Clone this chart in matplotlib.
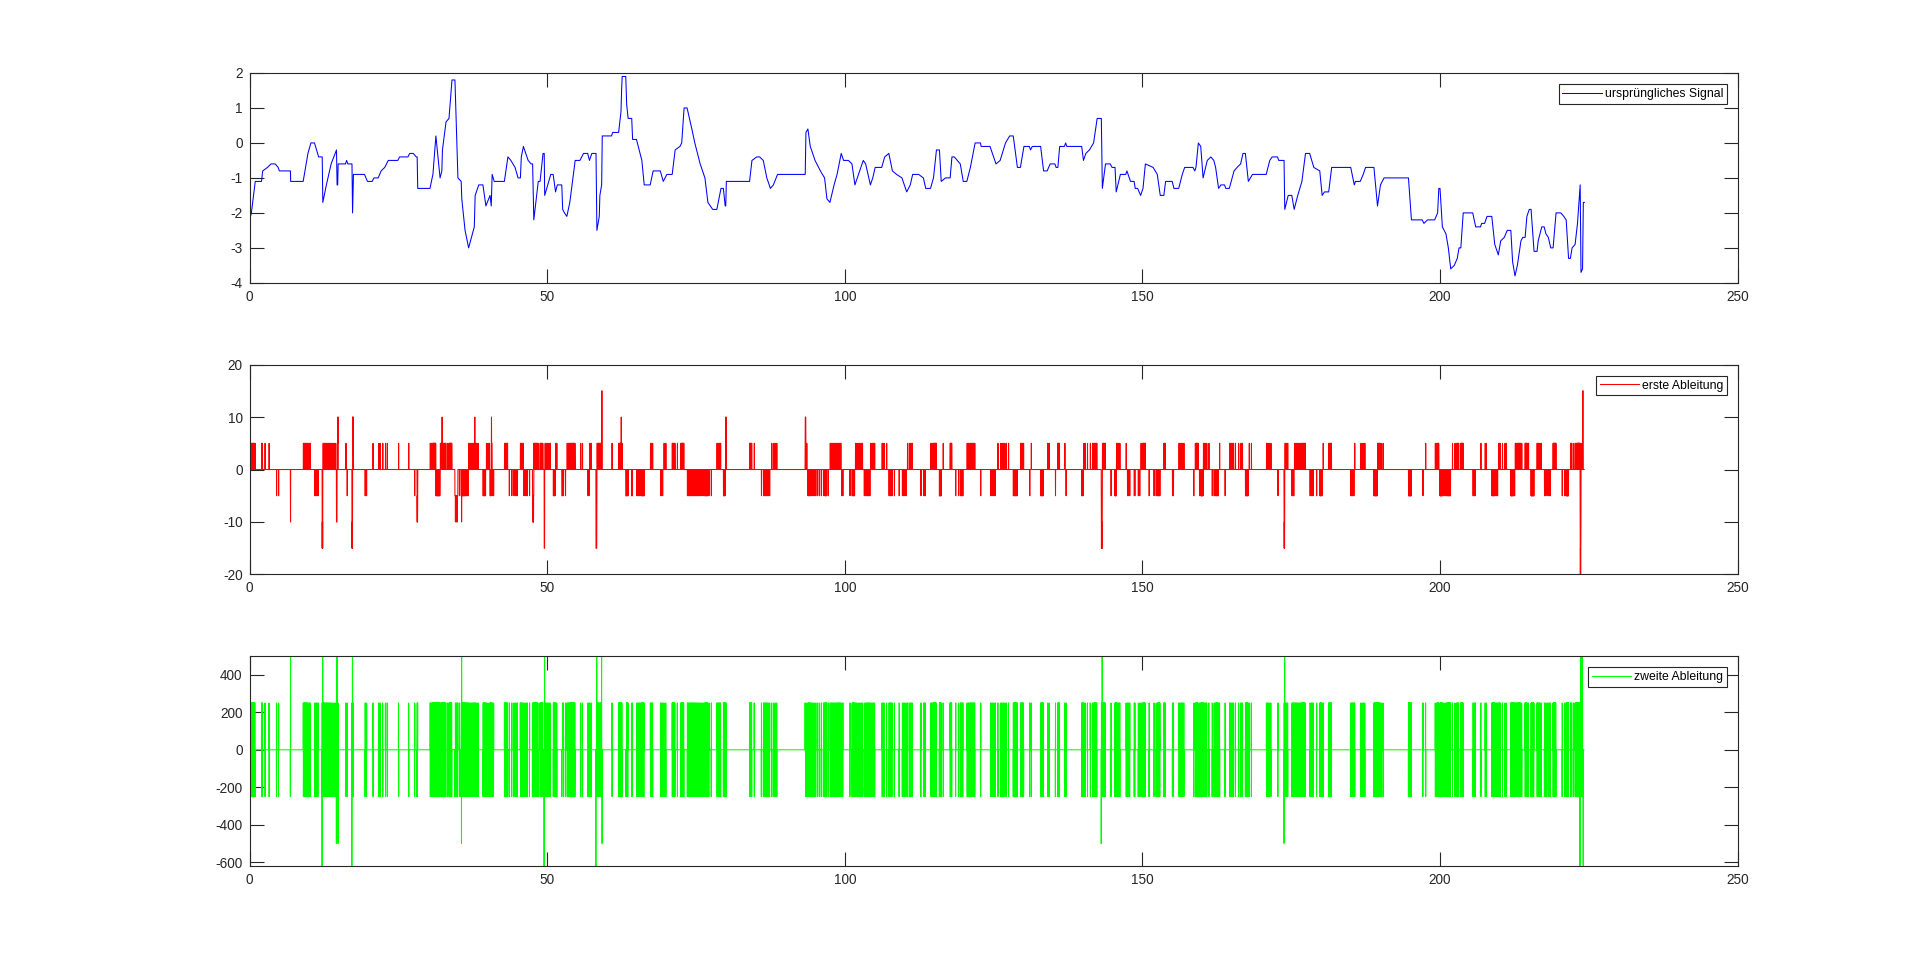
import numpy as np
import matplotlib
matplotlib.use("Agg")
from matplotlib import pyplot as plt

# Knots (time, value) of the original signal
sig_0_60 = [
    (0.0, -2.2), (0.3, -2.0), (0.95, -1.1), (2.0, -1.1), (2.2, -0.8), (3.0, -0.7),
    (3.6, -0.6), (4.3, -0.6), (4.8, -0.7), (5.0, -0.8), (6.86, -0.8), (6.9, -1.1),
    (9.0, -1.1), (9.8, -0.3), (10.3, 0.0), (10.9, 0.0), (11.6, -0.4), (12.2, -0.4),
    (12.3, -1.7), (12.9, -1.2), (13.7, -0.6), (14.6, -0.2), (14.7, -1.2), (14.8, -1.2),
    (14.88, -0.6), (16.1, -0.6), (16.3, -0.5), (16.5, -0.6), (17.2, -0.6), (17.3, -2.0),
    (17.45, -0.9), (19.3, -0.9), (19.8, -1.1), (20.6, -1.1), (20.9, -1.0), (21.6, -1.0),
    (22.1, -0.8), (22.7, -0.7), (23.3, -0.5), (24.9, -0.5), (25.2, -0.4), (26.6, -0.4),
    (26.9, -0.3), (27.5, -0.3), (28.0, -0.4), (28.15, -0.4), (28.25, -1.3), (30.3, -1.3),
    (30.8, -0.9), (31.3, 0.2), (32.0, -1.0), (32.3, -0.8), (32.4, -0.2), (33.0, 0.6),
    (33.5, 0.7), (34.0, 1.8), (34.5, 1.8), (35.0, -1.0), (35.55, -1.1), (35.65, -1.6),
    (36.2, -2.5), (36.8, -3.0), (37.75, -2.4), (37.9, -1.5), (38.5, -1.2), (39.2, -1.2),
    (39.7, -1.8), (40.4, -1.5), (40.6, -1.8), (40.75, -0.9), (41.1, -1.1), (42.8, -1.1),
    (43.4, -0.4), (43.9, -0.5), (44.6, -0.7), (45.1, -1.0), (45.5, -1.0), (45.65, -0.4),
    (46.0, -0.1), (46.8, -0.5), (47.3, -0.6), (47.55, -0.6), (47.75, -2.2), (48.5, -1.1),
    (48.8, -1.1), (49.3, -0.3), (49.5, -0.3), (49.58, -1.5), (50.6, -0.9), (51.0, -0.9),
    (51.4, -1.4), (51.7, -1.2), (52.45, -1.2), (52.6, -1.9), (52.9, -2.0), (53.3, -2.1),
    (53.8, -1.7), (54.7, -0.5), (55.5, -0.5), (56.1, -0.3), (56.8, -0.3), (57.1, -0.5),
    (57.5, -0.3), (58.2, -0.3), (58.35, -2.5), (58.75, -2.1), (58.85, -1.5), (59.15, -1.2),
    (59.25, 0.2),
]
sig_60_120 = [
    (60.8, 0.2), (61.0, 0.3), (62.0, 0.3), (62.4, 0.9), (62.5, 1.5), (62.6, 1.9),
    (63.2, 1.9), (63.35, 1.1), (63.6, 0.7), (64.2, 0.7), (64.35, 0.1), (65.0, 0.1),
    (65.9, -0.5), (66.3, -1.2), (67.3, -1.2), (67.8, -0.8), (69.0, -0.8), (69.5, -1.1),
    (70.1, -0.9), (71.0, -0.9), (71.5, -0.2), (72.3, -0.1), (72.6, 0.0), (73.0, 1.0),
    (73.5, 1.0), (74.3, 0.4), (74.8, 0.0), (75.7, -0.6), (76.5, -1.0), (77.0, -1.7),
    (77.8, -1.9), (78.5, -1.9), (79.2, -1.3), (79.6, -1.3), (79.9, -1.8), (80.0, -1.8),
    (80.1, -1.1), (84.0, -1.1), (84.4, -0.5), (85.2, -0.4), (85.7, -0.4), (86.3, -0.5),
    (86.9, -1.0), (87.5, -1.3), (88.0, -1.2), (88.7, -0.9), (93.35, -0.9), (93.47, 0.3),
    (93.8, 0.4), (94.2, -0.1), (95.0, -0.5), (95.9, -0.8), (96.6, -1.0), (97.0, -1.6),
    (97.5, -1.7), (98.2, -1.2), (98.7, -0.9), (99.4, -0.3), (99.8, -0.5), (100.6, -0.5),
    (101.2, -0.6), (101.7, -1.2), (102.3, -0.9), (103.1, -0.5), (103.5, -0.6), (104.3, -1.2),
    (104.7, -1.0), (105.1, -0.7), (106.2, -0.7), (106.7, -0.4), (107.4, -0.3), (108.0, -0.8),
    (108.7, -0.9), (109.6, -1.0), (110.4, -1.4), (111.0, -1.2), (111.4, -0.9), (112.4, -0.9),
    (113.2, -1.0), (113.6, -1.3), (114.4, -1.3), (114.9, -1.0), (115.4, -0.2), (115.9, -0.2),
    (116.2, -1.1), (116.9, -1.0), (117.7, -1.0), (118.0, -0.4), (118.4, -0.4), (119.4, -0.6),
    (119.9, -1.1),
]
sig_120_180 = [
    (120.5, -1.1), (121.1, -0.7), (121.9, 0.0), (122.8, 0.0), (122.9, -0.1), (124.4, -0.1),
    (125.4, -0.6), (126.1, -0.5), (127.0, 0.0), (127.7, 0.2), (128.3, 0.2), (129.0, -0.7),
    (129.5, -0.7), (130.1, -0.1), (131.0, -0.1), (131.2, -0.2), (131.5, -0.1), (132.9, -0.1),
    (133.4, -0.8), (134.0, -0.8), (134.5, -0.6), (135.3, -0.6), (135.5, -0.7), (135.8, -0.7),
    (136.1, -0.1), (136.9, -0.1), (137.1, 0.0), (137.3, -0.1), (139.8, -0.1), (140.1, -0.5),
    (140.5, -0.3), (141.1, -0.2), (141.8, 0.0), (142.4, 0.7), (143.1, 0.7), (143.27, -1.3),
    (143.8, -0.6), (144.6, -0.6), (144.9, -0.7), (145.4, -0.7), (145.6, -1.4), (146.3, -0.9),
    (147.2, -0.9), (147.4, -0.8), (148.0, -1.1), (148.6, -1.1), (148.8, -1.3), (149.2, -1.3),
    (149.7, -1.5), (150.1, -1.3), (150.5, -0.6), (151.8, -0.7), (152.5, -0.9), (153.0, -1.5),
    (153.6, -1.5), (153.9, -1.1), (155.0, -1.1), (155.3, -1.3), (156.1, -1.3), (156.7, -0.9),
    (157.1, -0.7), (158.5, -0.7), (158.8, -0.8), (159.0, -0.7), (159.4, 0.0), (159.8, -0.1),
    (160.2, -1.0), (160.9, -0.5), (161.5, -0.4), (162.0, -0.5), (162.3, -0.7), (162.8, -1.3),
    (163.2, -1.2), (163.8, -1.2), (164.0, -1.3), (164.6, -1.3), (165.4, -0.8), (165.9, -0.7),
    (166.5, -0.6), (166.9, -0.3), (167.3, -0.3), (167.8, -1.1), (168.5, -0.9), (170.8, -0.9),
    (171.4, -0.5), (171.8, -0.4), (172.7, -0.4), (172.9, -0.5), (173.8, -0.5), (173.92, -1.9),
    (174.5, -1.5), (175.1, -1.5), (175.5, -1.9), (176.1, -1.5), (176.8, -1.1), (177.4, -0.3),
    (178.1, -0.3), (178.8, -0.7), (179.8, -0.8),
]
sig_180_225 = [
    (180.2, -1.5), (180.6, -1.4), (181.3, -1.4), (181.8, -0.7), (185.0, -0.7), (185.6, -1.2),
    (185.8, -1.1), (186.6, -1.1), (187.1, -0.9), (187.5, -0.7), (188.9, -0.7), (189.5, -1.8),
    (190.0, -1.2), (190.6, -1.0), (194.7, -1.0), (195.2, -2.2), (197.0, -2.2), (197.3, -2.3),
    (197.9, -2.2), (199.1, -2.2), (199.6, -2.0), (199.8, -1.3), (200.0, -1.3), (200.4, -2.4),
    (201.0, -2.6), (201.4, -3.0), (201.8, -3.6), (202.4, -3.5), (202.9, -3.3), (203.2, -3.0),
    (203.5, -3.0), (203.9, -2.0), (205.5, -2.0), (206.0, -2.4), (206.8, -2.4), (207.0, -2.3),
    (207.5, -2.3), (207.9, -2.1), (208.7, -2.1), (209.2, -2.9), (209.8, -3.2), (210.2, -2.8),
    (210.8, -2.7), (211.3, -2.5), (211.9, -2.5), (212.2, -3.4), (212.6, -3.8), (213.0, -3.5),
    (213.6, -2.8), (213.9, -2.7), (214.3, -2.7), (214.6, -2.1), (215.0, -1.9), (215.3, -1.9),
    (215.8, -3.1), (216.3, -3.1), (216.5, -2.8), (217.1, -2.4), (217.5, -2.4), (217.8, -2.6),
    (218.2, -2.7), (218.6, -3.0), (219.0, -3.0), (219.5, -2.0), (220.3, -2.0), (220.8, -2.1),
    (221.2, -2.2), (221.6, -3.3), (221.9, -3.3), (222.2, -3.0), (222.7, -2.9), (223.1, -2.3),
    (223.55, -1.2), (223.69, -3.7), (223.95, -3.6), (224.08, -1.7), (224.25, -1.7),
]

DT = 0.02    # sample interval of the recording
STEP = 0.1   # resolution of the sensor values

labels = ["ursprüngliches Signal", "erste Ableitung", "zweite Ableitung"]
colors = ["#0000ff", "#ff0000", "#00ff00"]
ylims = [(-4, 2), (-20, 20), (-620, 500)]
yticks = [np.arange(-4, 3, 1), np.arange(-20, 21, 10), np.arange(-600, 401, 200)]
xticks = np.arange(0, 251, 50)

knots = sig_0_60 + sig_60_120 + sig_120_180 + sig_180_225
sig_t = np.array([k[0] for k in knots])
sig_v = np.array([k[1] for k in knots])

# sampled, quantised recording -> numerical derivatives
t_s = np.arange(0, sig_t[-1], DT)
lev = np.round(np.interp(t_s, sig_t, sig_v) / STEP)
d1 = np.diff(lev) * STEP / DT
d2 = np.diff(d1) / DT

plt.rcParams['font.family'] = ['Liberation Sans', 'DejaVu Sans']
plt.rcParams['axes.unicode_minus'] = False
fig = plt.figure(figsize=(19.2, 9.73), dpi=100, facecolor='white')

positions = [[0.13, 0.7093, 0.775, 0.2157],
             [0.13, 0.4096, 0.775, 0.2157],
             [0.13, 0.11, 0.775, 0.2157]]
series = [(sig_t, sig_v), (t_s[:-1], d1), (t_s[:-2], d2)]

for i in range(3):
    ax = fig.add_axes(positions[i])
    x, y = series[i]
    ax.plot(x, y, color=colors[i], linewidth=0.75, label=labels[i])
    ax.set_xlim(0, 250)
    ax.set_ylim(*ylims[i])
    ax.set_xticks(xticks)
    ax.set_yticks(yticks[i])
    for sp in ax.spines.values():
        sp.set_color('#262626')
        sp.set_linewidth(0.8)
    ax.tick_params(direction='in', length=10, width=0.8, top=True, right=True,
                   colors='#262626', labelsize=9.8, pad=5)
    leg = ax.legend(loc='upper right', bbox_to_anchor=(0.9927, 0.946), borderaxespad=0,
                    fontsize=8.8, fancybox=False, framealpha=1, edgecolor='#262626',
                    borderpad=0.3, handlelength=3.2, handletextpad=0.25)
    leg.get_frame().set_linewidth(0.8)

fig.savefig("out.png", dpi=100, facecolor='white')
